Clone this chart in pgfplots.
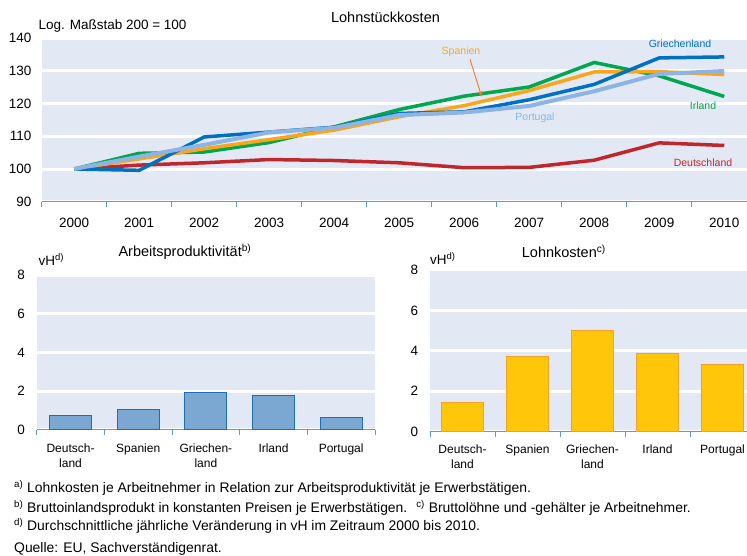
\documentclass[border=0pt]{standalone}
\usepackage{fontspec}
\setmainfont{Liberation Sans}
\usepackage{pgfplots}
\pgfplotsset{compat=1.18}
\usetikzlibrary{arrows.meta}

\definecolor{bg}{RGB}{227,233,244}
\definecolor{axblue}{RGB}{91,155,213}
\definecolor{cde}{RGB}{192,39,45}
\definecolor{cgr}{RGB}{0,112,192}
\definecolor{cie}{RGB}{0,166,80}
\definecolor{ces}{RGB}{250,166,26}
\definecolor{carrow}{RGB}{240,120,40}
\definecolor{cpt}{RGB}{141,180,226}
\definecolor{barblue}{RGB}{122,168,210}
\definecolor{baredge}{RGB}{30,110,180}
\definecolor{baryel}{RGB}{255,198,10}
\definecolor{baryeledge}{RGB}{245,160,40}

\newcommand{\fA}{\fontsize{13.5}{16}\selectfont}
\newcommand{\fF}{\fontsize{13.9}{16}\selectfont}
\newcommand{\fT}{\fontsize{14.5}{17}\selectfont}
\newcommand{\fL}{\fontsize{10.5}{12}\selectfont}
\newcommand{\fC}{\fontsize{12}{15}\selectfont}

\pgfplotsset{
  base/.style={
    scale only axis,
    axis background/.style={fill=bg},
    axis lines*=left,
    y axis line style={draw=none},
    x axis line style={draw=axblue, line width=1pt},
    ymajorgrids,
    grid style={white, line width=3pt},
    major tick length=0pt,
    minor tick length=5pt,
    tick align=outside,
    minor x tick style={draw=axblue, line width=1pt},
    /pgf/number format/assume math mode=true,
    yticklabel style={anchor=east, inner sep=0pt, xshift=-10pt, font=\fA},
  }
}

\begin{document}
\begin{tikzpicture}
\path[use as bounding box] (0,0) rectangle (747pt,556pt);

% ---------------- top chart ----------------
\begin{axis}[base,
  at={(41.7pt,354.3pt)}, anchor=south west,
  width=705.3pt, height=163.4pt,
  xmin=-0.5, xmax=10.35, ymin=90, ymax=140,
  ytick={90,100,...,140},
  xtick={0,...,10},
  xticklabels={2000,2001,2002,2003,2004,2005,2006,2007,2008,2009,2010},
  minor xtick={-0.5,0.5,...,9.5},
  xticklabel style={anchor=north, inner sep=0pt, yshift=-16pt, font=\fA},
]
\addplot[cde, line width=3.5pt] coordinates {(0,100) (1,101.2) (2,101.9) (3,102.9) (4,102.6) (5,101.9) (6,100.4) (7,100.5) (8,102.7) (9,108.0) (10,107.2)};
\addplot[cie, line width=3.5pt] coordinates {(0,100) (1,104.8) (2,105.2) (3,108.1) (4,112.9) (5,118.2) (6,122.3) (7,125.1) (8,132.6) (9,128.5) (10,122.2)};
\addplot[ces, line width=3.5pt] coordinates {(0,100) (1,103.1) (2,106.2) (3,109.0) (4,111.9) (5,116.0) (6,119.4) (7,124.0) (8,129.7) (9,129.8) (10,128.9)};
\addplot[cgr, line width=3.5pt] coordinates {(0,100) (1,99.6) (2,109.8) (3,111.3) (4,112.8) (5,117.0) (6,117.5) (7,121.2) (8,125.9) (9,134.0) (10,134.3)};
\addplot[cpt, line width=4pt] coordinates {(0,100) (1,103.8) (2,107.4) (3,111.2) (4,112.6) (5,116.5) (6,117.3) (7,119.3) (8,123.8) (9,129.1) (10,130.0)};
\end{axis}

% labels top chart
\node[anchor=base, inner sep=0pt, font=\fT] at (385.5pt,533.3pt) {Lohnstückkosten};
\node[anchor=base west, inner sep=0pt, font=\fA] at (38.3pt,526.7pt) {Log. Maßstab 200 = 100};
\node[inner sep=0pt, font=\fL, text=cgr] at (680pt,512.7pt) {Griechenland};
\node[inner sep=0pt, font=\fL, text=ces] at (461pt,504.3pt) {Spanien};
\draw[carrow, line width=0.9pt, -{Stealth[length=6pt,width=5pt]}] (470pt,496.7pt) -- (481.7pt,459.3pt);
\node[inner sep=0pt, font=\fL, text=cie] at (703pt,450.7pt) {Irland};
\node[inner sep=0pt, font=\fL, text=cpt] at (535pt,438.7pt) {Portugal};
\node[inner sep=0pt, font=\fL, text=cde] at (703pt,393.7pt) {Deutschland};

% ---------------- bottom left ----------------
\begin{axis}[base,
  at={(36.7pt,126pt)}, anchor=south west,
  width=338.3pt, height=155pt,
  xmin=-0.5, xmax=4.5, ymin=0, ymax=8,
  ytick={0,2,...,8},
  xtick={0,...,4},
  xticklabels={{Deutsch-\\land},Spanien,{Griechen-\\land},Irland,Portugal},
  minor xtick={-0.5,0.5,...,4.5},
  xticklabel style={anchor=north, align=center, inner sep=0pt, yshift=-14pt, font=\fC},
  yticklabel style={xshift=-1.7pt},
]
\addplot[ybar, bar width=42pt, fill=barblue, draw=baredge, line width=1pt] coordinates {(0,0.74) (1,1.08) (2,1.92) (3,1.77) (4,0.65)};
\end{axis}
\node[anchor=base west, inner sep=0pt, font=\fT] at (118.3pt,299.3pt) {Arbeitsproduktivität\textsuperscript{b)}};
\node[anchor=base west, inner sep=0pt, font=\fA] at (38.3pt,290.3pt) {vH\textsuperscript{d)}};

% ---------------- bottom right ----------------
\begin{axis}[base,
  at={(430pt,124.3pt)}, anchor=south west,
  width=317pt, height=161.7pt,
  xmin=-0.5, xmax=4.377, ymin=0, ymax=8,
  ytick={0,2,...,8},
  xtick={0,...,4},
  xticklabels={{Deutsch-\\land},Spanien,{Griechen-\\land},Irland,Portugal},
  minor xtick={-0.5,0.5,...,3.5},
  xticklabel style={anchor=north, align=center, inner sep=0pt, yshift=-12.5pt, font=\fC},
  yticklabel style={xshift=-1.7pt},
]
\addplot[ybar, bar width=41.7pt, fill=baryel, draw=baryeledge, line width=1pt] coordinates {(0,1.44) (1,3.71) (2,5.03) (3,3.88) (4,3.34)};
\end{axis}
\node[anchor=base west, inner sep=0pt, font=\fT] at (521.7pt,298.7pt) {Lohnkosten\textsuperscript{c)}};
\node[anchor=base west, inner sep=0pt, font=\fA] at (430pt,291pt) {vH\textsuperscript{d)}};

% ---------------- footnotes ----------------
\node[anchor=base west, inner sep=0pt, font=\fF] at (14pt,63pt) {\textsuperscript{a)} Lohnkosten je Arbeitnehmer in Relation zur Arbeitsproduktivität je Erwerbstätigen.};
\node[anchor=base west, inner sep=0pt, font=\fF] at (14pt,43.5pt) {\textsuperscript{b)} Bruttoinlandsprodukt in konstanten Preisen je Erwerbstätigen.\hspace{9pt}\textsuperscript{c)} Bruttolöhne und -gehälter je Arbeitnehmer.};
\node[anchor=base west, inner sep=0pt, font=\fF] at (14pt,25pt) {\textsuperscript{d)} Durchschnittliche jährliche Veränderung in vH im Zeitraum 2000 bis 2010.};
\node[anchor=base west, inner sep=0pt, font=\fF] at (14pt,3pt) {Quelle: EU, Sachverständigenrat.};
\end{tikzpicture}
\end{document}
